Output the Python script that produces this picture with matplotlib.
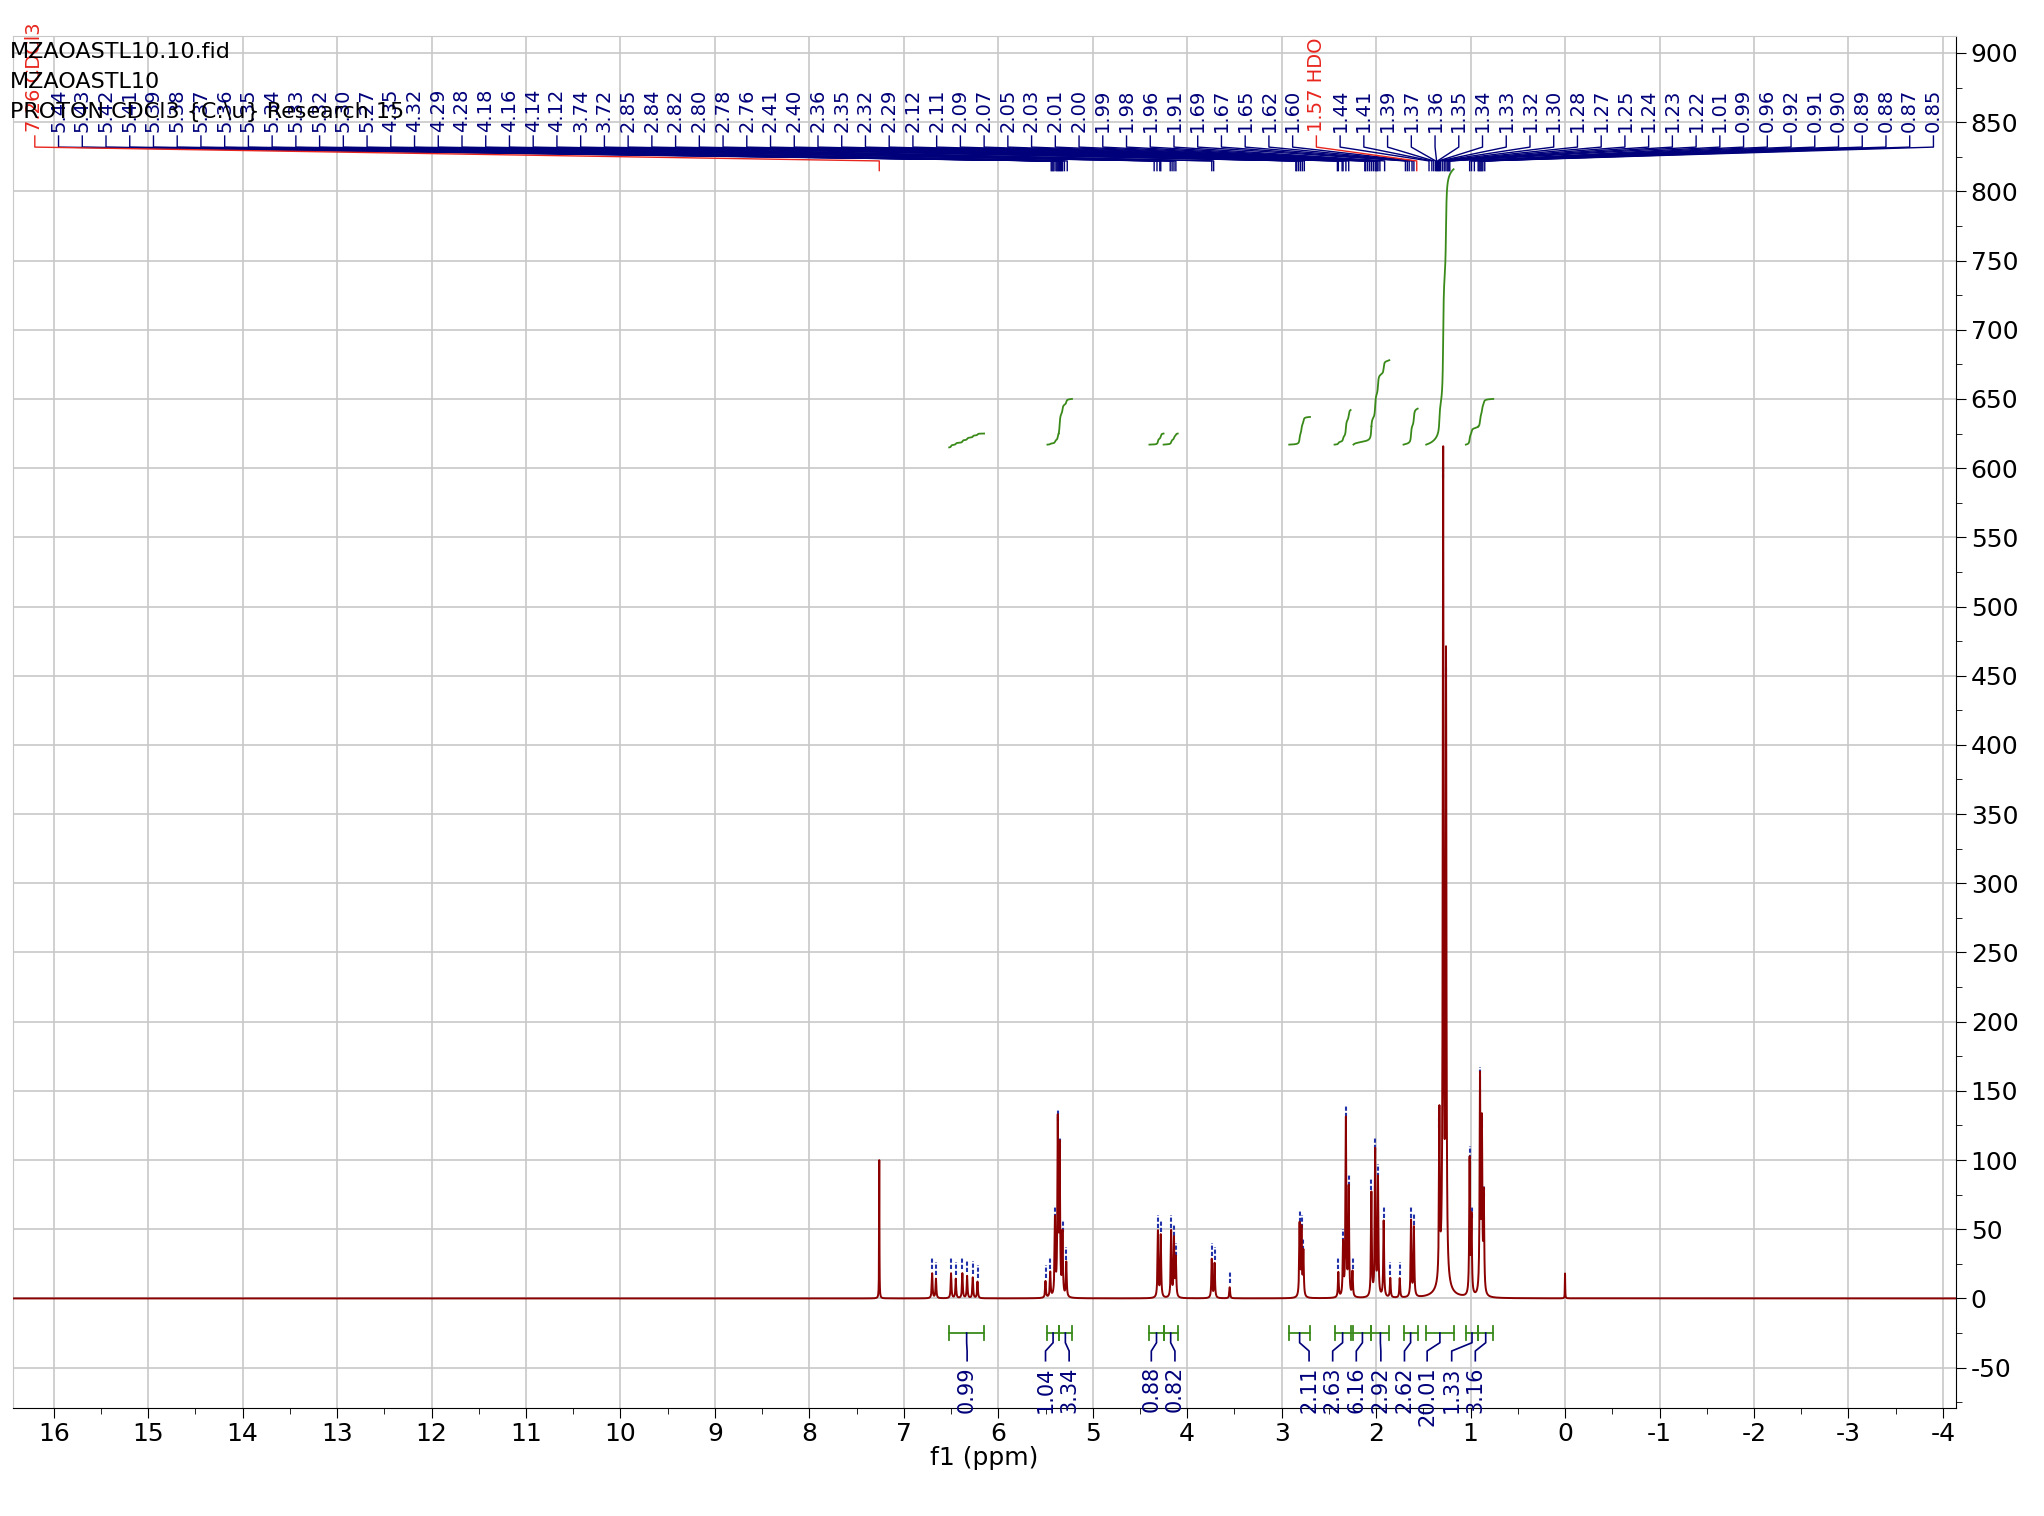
import numpy as np
import matplotlib
matplotlib.use("Agg")
import matplotlib.pyplot as plt
from matplotlib.ticker import MultipleLocator

plt.rcParams['axes.unicode_minus'] = False

# ---- data ----
peak_ppm = [7.26, 6.70, 6.66, 6.50, 6.45, 6.38, 6.33, 6.27, 6.22,
            5.50, 5.45, 5.40, 5.37, 5.35, 5.32, 5.28,
            4.31, 4.28, 4.17, 4.14, 4.12, 3.74, 3.71, 3.55,
            2.81, 2.79, 2.77, 2.40, 2.35, 2.32, 2.29, 2.25,
            2.05, 2.01, 1.98, 1.92, 1.85, 1.75, 1.63, 1.60,
            1.33, 1.29, 1.26, 1.01, 0.99, 0.90, 0.88, 0.86, 0.00]
peak_h = [100, 18, 14, 18, 14, 18, 16, 15, 12,
          12, 18, 55, 125, 105, 45, 25,
          48, 45, 48, 42, 28, 28, 25, 8,
          52, 48, 32, 18, 38, 128, 78, 18,
          75, 105, 85, 55, 14, 14, 55, 50,
          120, 590, 445, 98, 55, 155, 120, 70, 18]
peak_w = [0.002] + [0.005] * (len(peak_h) - 2) + [0.002]

top_labels = ["7.26 CDCl3", "5.44", "5.43", "5.42", "5.41", "5.39", "5.38", "5.37", "5.36",
              "5.35", "5.34", "5.33", "5.32", "5.30", "5.27", "4.35", "4.32", "4.29", "4.28",
              "4.18", "4.16", "4.14", "4.12", "3.74", "3.72", "2.85", "2.84", "2.82", "2.80",
              "2.78", "2.76", "2.41", "2.40", "2.36", "2.35", "2.32", "2.29", "2.12", "2.11",
              "2.09", "2.07", "2.05", "2.03", "2.01", "2.00", "1.99", "1.98", "1.96", "1.91",
              "1.69", "1.67", "1.65", "1.62", "1.60", "1.57 HDO", "1.44", "1.41", "1.39", "1.37",
              "1.36", "1.35", "1.34", "1.33", "1.32", "1.30", "1.28", "1.27", "1.25", "1.24",
              "1.23", "1.22", "1.01", "0.99", "0.96", "0.92", "0.91", "0.90", "0.89", "0.88",
              "0.87", "0.85"]

int_lo = [6.15, 5.36, 5.22, 4.25, 4.10, 2.70, 2.27, 2.05, 1.86, 1.56, 1.18, 0.92, 0.76]
int_hi = [6.52, 5.48, 5.36, 4.40, 4.25, 2.92, 2.44, 2.24, 2.05, 1.71, 1.47, 1.05, 0.92]
int_vals = ["0.99", "1.04", "3.34", "0.88", "0.82", "2.11", "2.63", "6.16", "2.92", "2.62", "20.01", "1.33", "3.16"]
int_label_x = [6.33, 5.50, 5.25, 4.38, 4.13, 2.71, 2.46, 2.21, 1.95, 1.70, 1.46, 1.20, 0.95]
int_curve_start = [615, 617, 625, 617, 617, 617, 617, 617, 630, 617, 617, 617, 630]
int_curve_rise = [10, 8, 25, 8, 8, 20, 25, 13, 48, 26, 199, 13, 20]

# ---- figure ----
fig = plt.figure(figsize=(20.44, 15.16), dpi=100)
ax = fig.add_axes([0.0064, 0.0714, 0.9506, 0.9046])
x = np.linspace(-4.2, 16.5, 60000)
y = np.zeros_like(x)
for p, h, w in zip(peak_ppm, peak_h, peak_w):
    y += h * w**2 / ((x - p)**2 + w**2)
y += 12 * 0.06**2 / ((x - 1.29)**2 + 0.06**2)
ax.plot(x, y, color="#8b0000", lw=1.4, zorder=3)

navy = "#00007a"
green = "#3a8a1a"
for lo, hi, s, r in zip(int_lo, int_hi, int_curve_start, int_curve_rise):
    m = (x >= lo) & (x <= hi)
    xs = x[m][::-1]
    cs = np.cumsum(y[m][::-1])
    cs = cs / cs[-1]
    ax.plot(xs, s + r * cs, color=green, lw=1.3, zorder=4)
    ax.plot([hi, lo], [-25, -25], color=green, lw=1.3)
    ax.plot([hi, hi], [-20, -30], color=green, lw=1.3)
    ax.plot([lo, lo], [-20, -30], color=green, lw=1.3)
for lo, hi, lx, v in zip(int_lo, int_hi, int_label_x, int_vals):
    c = (lo + hi) / 2
    ax.plot([c, c, lx, lx], [-25, -32, -38, -45], color=navy, lw=1.2)
    ax.text(lx, -49, v, rotation=90, ha="center", va="top", color=navy, fontsize=15)

n = len(top_labels)
lab_x = np.linspace(16.2, -3.9, n)
targets = [float(t.split()[0]) for t in top_labels]
for lx, t, tp in zip(lab_x, top_labels, targets):
    col = "#e8261e" if " " in t else navy
    ax.text(lx, 843, t, rotation=90, ha="center", va="bottom", color=col, fontsize=14)
    ax.plot([lx, lx, tp, tp], [840, 832, 822, 815], color=col, lw=1.0,
            zorder=5 if col != navy else 4)

for p, h in zip(peak_ppm[1:-1], peak_h[1:-1]):
    ax.plot([p, p], [h + 3, h + 12], color="#2233aa", lw=1.5, ls=(0, (2, 1)))

ax.set_xlim(16.43, -4.14)
ax.set_ylim(-79, 912)
ax.yaxis.tick_right()
ax.xaxis.set_minor_locator(MultipleLocator(0.5))
ax.yaxis.set_major_locator(MultipleLocator(50))
ax.yaxis.set_minor_locator(MultipleLocator(25))
ax.set_xticks(range(-4, 17))
ax.set_xticklabels([str(v) for v in range(-4, 17)])
ax.tick_params(labelsize=18, length=7)
ax.tick_params(which="minor", length=4)
ax.grid(True, which="major", color="#c8c8c8", lw=1.2)
ax.set_axisbelow(True)
for s in ["top", "left"]:
    ax.spines[s].set_color("#c8c8c8")
ax.set_xlabel("f1 (ppm)", fontsize=18, labelpad=0)

fig.text(0.005, 0.966, "MZAOASTL10.10.fid", fontsize=16, va="center")
fig.text(0.005, 0.946, "MZAOASTL10", fontsize=16, va="center")
fig.text(0.005, 0.926, "PROTON CDCl3 {C:\\u} Research 15", fontsize=16, va="center")

fig.savefig("out.png", dpi=100)
